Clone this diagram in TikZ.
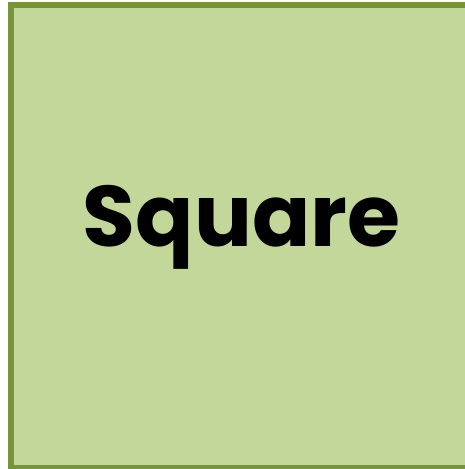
\documentclass[tikz,border=0pt]{standalone}
\usepackage{fontspec}
\setmainfont{Poppins}
\usetikzlibrary{positioning}
\definecolor{sqfill}{HTML}{C4D79B}
\definecolor{sqline}{HTML}{77933C}
\begin{document}
\begin{tikzpicture}[x=1pt, y=1pt,
      box/.style={draw=sqline, fill=sqfill, line width=6pt},
      word/.style={font=\fontsize{86}{86}\selectfont\bfseries, text=black, anchor=base}]
    \useasboundingbox (0,0) rectangle (465,469);
    \clip (0,0) rectangle (465,469);
    \draw[box] (11,0.5) rectangle (490,463.5);
    \node[word] (lbl) at (241.5,222) {Square};
  \end{tikzpicture}
\end{document}
